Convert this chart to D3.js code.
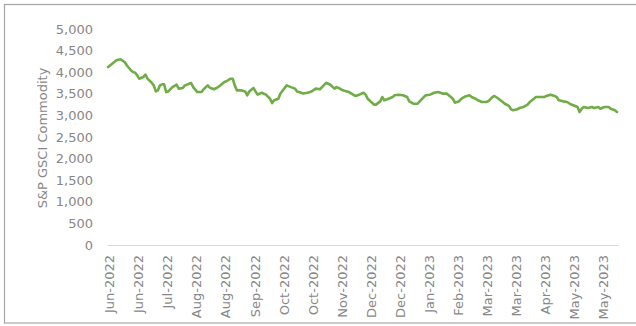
<!DOCTYPE html>
<html>
<head>
<meta charset="utf-8">
<script src="https://cdn.jsdelivr.net/npm/d3@7/dist/d3.min.js"></script>
<style>
  html, body { margin: 0; padding: 0; background: #fff; }
  svg { display: block; }
  text { font-family: "DejaVu Sans", sans-serif; fill: #878787; }
</style>
</head>
<body>
<svg id="chart" width="636" height="326"></svg>
<script>
// Trading-day index (0 = early Jun-2022) and S&P GSCI Commodity level
const days = [0,2,4,6,8,9,11,12,13,14,15,17,18,19,21,22,23,24,25,26,27,28,29,31,33,34,36,37,40,41,43,45,46,48,49,51,53,54,56,57,59,60,61,62,64,66,67,68,70,71,72,74,76,78,79,80,82,83,85,86,88,90,91,93,94,96,98,100,102,103,105,107,109,110,111,113,115,116,118,119,121,123,124,125,128,129,131,132,133,135,137,138,140,142,144,145,147,149,150,152,153,155,157,159,161,163,164,166,167,169,170,172,174,175,177,178,180,182,183,185,186,188,190,191,193,194,195,197,198,200,202,203,205,206,208,210,211,213,215,216,217,219,221,223,224,226,227,228,229,231,233,234,236,237,239,241,242,244,245];
const values = [4120,4195,4275,4300,4235,4160,4045,4005,3990,3930,3850,3890,3945,3850,3755,3695,3555,3580,3695,3720,3720,3540,3555,3655,3710,3620,3635,3695,3750,3655,3540,3540,3605,3695,3640,3605,3655,3695,3775,3790,3850,3850,3695,3580,3580,3555,3465,3555,3635,3555,3480,3525,3480,3385,3285,3350,3385,3505,3635,3695,3655,3620,3555,3525,3505,3525,3555,3620,3605,3655,3755,3710,3620,3655,3635,3580,3555,3540,3480,3450,3480,3525,3480,3385,3250,3250,3325,3425,3350,3385,3425,3465,3480,3465,3425,3325,3270,3270,3325,3425,3465,3480,3525,3540,3505,3505,3465,3385,3295,3325,3385,3440,3465,3425,3385,3350,3310,3310,3325,3425,3450,3385,3310,3270,3220,3140,3120,3140,3170,3195,3250,3310,3385,3425,3425,3425,3450,3480,3450,3425,3350,3325,3310,3250,3235,3195,3080,3155,3195,3170,3195,3170,3195,3155,3195,3195,3155,3120,3080];
const nDays = 246;
const tickDays = [0,14,28,42,56,70,84,98,112,126,140,154,168,182,196,210,224,238];
const tickLabels = ["Jun-2022","Jun-2022","Jul-2022","Aug-2022","Aug-2022","Sep-2022","Oct-2022","Oct-2022","Nov-2022","Dec-2022","Dec-2022","Jan-2023","Feb-2023","Mar-2023","Mar-2023","Apr-2023","May-2023","May-2023"];
const yTicks = [0,500,1000,1500,2000,2500,3000,3500,4000,4500,5000];
const yTitle = "S&P GSCI Commodity";

const svg = d3.select("#chart");

// outer frame
svg.append("rect")
  .attr("x", 4.5).attr("y", 4.5)
  .attr("width", 640).attr("height", 318.5)
  .attr("fill", "none").attr("stroke", "#a6a6a6").attr("stroke-width", 1.2);

const x = d3.scaleLinear().domain([-0.5, nDays - 0.5]).range([107, 618]);
const y = d3.scaleLinear().domain([0, 5000]).range([245, 29]);

// y axis labels
const yAxis = d3.axisLeft(y).tickValues(yTicks).tickFormat(d3.format(",")).tickSize(0).tickPadding(0);
const gy = svg.append("g").attr("transform", "translate(93,0)").call(yAxis);
gy.select(".domain").remove();
gy.selectAll("text").attr("font-size", 13).attr("font-family", "DejaVu Sans, sans-serif").attr("fill", "#878787");

// x axis baseline
const xAxis = d3.axisBottom(x).tickValues(tickDays).tickFormat((d, i) => tickLabels[i]).tickSize(0).tickSizeOuter(0);
const gx = svg.append("g").attr("transform", "translate(0,245)").call(xAxis);
gx.select(".domain").attr("stroke", "#d9d9d9").attr("stroke-width", 1);
gx.selectAll("text")
  .attr("font-size", 13).attr("font-family", "DejaVu Sans, sans-serif").attr("fill", "#878787")
  .attr("text-anchor", "end")
  .attr("transform", "rotate(-90)")
  .attr("x", -10).attr("y", 0).attr("dy", "0.35em");
gx.selectAll(".tick").attr("transform", d => `translate(${x(d) + 1.5},0)`);

// y title
svg.append("text")
  .attr("transform", "translate(47,138) rotate(-90)")
  .attr("text-anchor", "middle")
  .attr("font-size", 13)
  .text(yTitle);

// line
const line = d3.line().x((d, i) => x(days[i])).y(d => y(d));
svg.append("path")
  .datum(values)
  .attr("d", line)
  .attr("fill", "none")
  .attr("stroke", "#70ad47")
  .attr("stroke-width", 2.6)
  .attr("stroke-linejoin", "round")
  .attr("stroke-linecap", "round");
</script>
</body>
</html>
